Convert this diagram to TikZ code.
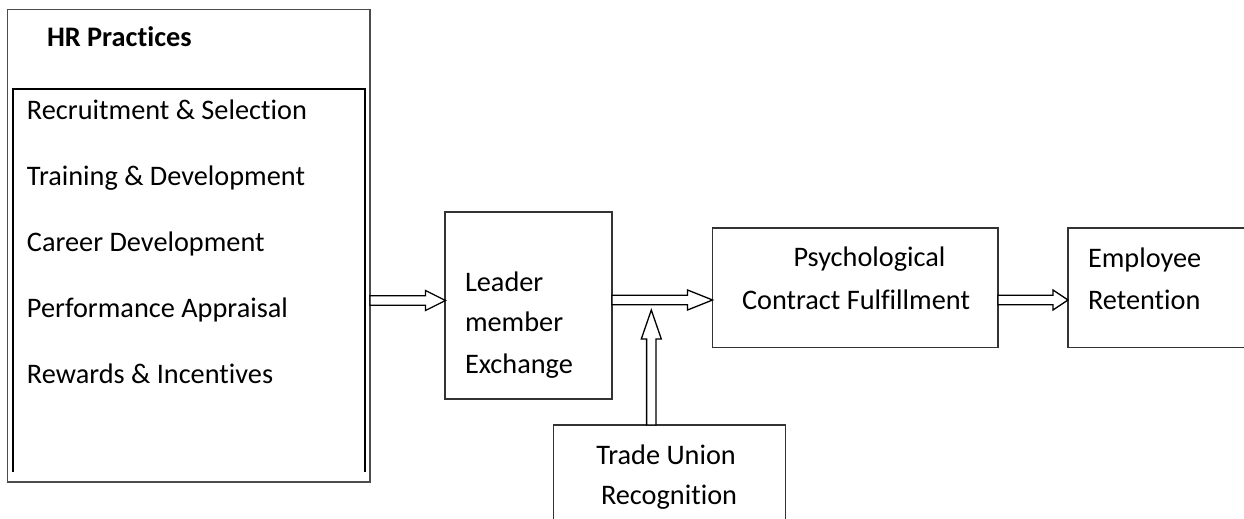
\documentclass[tikz,border=0pt]{standalone}
\usepackage{fontspec}
\setmainfont[RawFeature={-liga;-clig}]{Carlito}
\usetikzlibrary{calc}
\tikzset{
  box/.style={draw=black!80, line width=1.3pt, fill=white, inner sep=0pt, outer sep=0pt},
  outerbox/.style={draw=black!70, line width=1.5pt, inner sep=0pt, outer sep=0pt},
  innerbox/.style={draw=black, line width=2pt},
  lbl/.style={anchor=base west, inner sep=0pt, outer sep=0pt, font=\fontsize{28.3}{34}\selectfont},
  blk/.style={draw=black, line width=1.3pt, fill=white, line join=miter},
}
% horizontal block arrow: #1 start, #2 tip, #3 head length
\newcommand\harrow[3]{%
  \path[blk] let \p1=(#1), \p2=(#2) in
    (\x1,\y2+4.8pt) -- (\x2-#3,\y2+4.8pt) -- (\x2-#3,\y2+10pt) -- (\x2,\y2)
    -- (\x2-#3,\y2-10pt) -- (\x2-#3,\y2-4.8pt) -- (\x1,\y2-4.8pt) -- cycle;}
% vertical (upward) block arrow: #1 start, #2 tip, #3 head length
\newcommand\varrow[3]{%
  \path[blk] let \p1=(#1), \p2=(#2) in
    (\x2-4.7pt,\y1) -- (\x2-4.7pt,\y2-#3) -- (\x2-10pt,\y2-#3) -- (\x2,\y2)
    -- (\x2+10pt,\y2-#3) -- (\x2+4.7pt,\y2-#3) -- (\x2+4.7pt,\y1) -- cycle;}
\begin{document}
\begin{tikzpicture}[x=1pt,y=-1pt]
\useasboundingbox (0,0) rectangle (1244,519);
\clip (0,0) rectangle (1244,519);
\fill[white] (0,0) rectangle (1244,519);

% HR practices box
\node[outerbox, minimum width=362.5pt, minimum height=472.5pt] (hr) at (188.75,245.75) {};
\draw[innerbox] (13,471.7) -- (13,89) -- (365.3,89) -- (365.3,471.7);
\node[lbl, font=\fontsize{28.3}{34}\selectfont\bfseries] (hrt) at (47,46.7) {HR Practices};
\node[lbl] (p1) at (27,119.5) {Recruitment \& Selection};
\node[lbl] (p2) at (27,185.5) {Training \& Development};
\node[lbl] (p3) at (27,251.2) {Career Development};
\node[lbl] (p4) at (27,317.2) {Performance Appraisal};
\node[lbl] (p5) at (27,383.2) {Rewards \& Incentives};

% Leader member exchange
\node[box, minimum width=167pt, minimum height=187pt] (lmx) at (528.5,305.5) {};
\node[lbl] (l1) at (465,291.7) {Leader};
\node[lbl] (l2) at (465,331.7) {member};
\node[lbl] (l3) at (465,373.3) {Exchange};

% Psychological contract fulfillment
\node[box, minimum width=285.5pt, minimum height=119.5pt] (pcf) at (855.25,287.75) {};
\node[lbl] (c1) at (793.5,266.7) {Psychological};
\node[lbl] (c2) at (742,309.3) {Contract Fulfillment};

% Employee retention
\node[box, minimum width=232pt, minimum height=119.5pt] (er) at (1184,287.75) {};
\node[lbl] (e1) at (1088,267) {Employee};
\node[lbl] (e2) at (1088,309) {Retention};

% Trade union recognition
\node[box, minimum width=232pt, minimum height=135pt] (tur) at (669.5,492.5) {};
\node[lbl] (t1) at (596.3,464) {Trade Union};
\node[lbl] (t2) at (601,504) {Recognition};

% connectors
\coordinate (a1) at ($(lmx.west)+(0.5,-5)$);
\harrow{hr.east}{a1}{20pt}
\coordinate (a2) at ($(pcf.west)+(0,12.25)$);
\harrow{lmx.east}{a2}{25pt}
\coordinate (a3) at ($(er.west)+(0,12.25)$);
\harrow{pcf.east}{a3}{15pt}
\coordinate (tip) at (651.3,310);
\varrow{tur.north}{tip}{29pt}
\end{tikzpicture}
\end{document}
